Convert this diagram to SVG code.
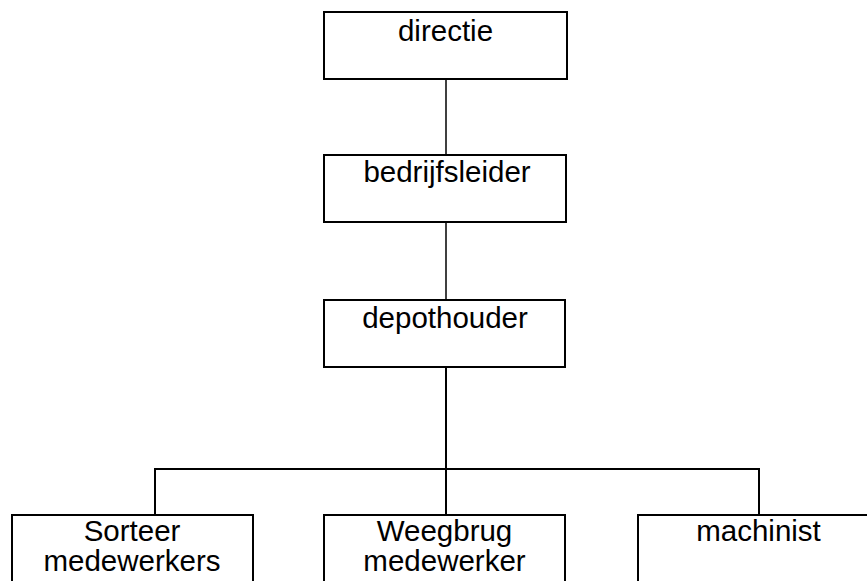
<svg xmlns="http://www.w3.org/2000/svg" width="867" height="581" viewBox="0 0 867 581">
<style>
.box{fill:#fff;stroke:#000;stroke-width:2}
.lbl{font-family:"Liberation Sans",Arial,sans-serif;font-size:29.5px;fill:#000;text-anchor:middle}
.con{stroke:#000;stroke-width:2;fill:none}
.thin{stroke-width:1.5}
</style>
<rect width="867" height="581" fill="#fff"/>
<g id="connectors">
<line class="con thin" x1="446" y1="79" x2="446" y2="155"/>
<line class="con thin" x1="446" y1="222" x2="446" y2="300"/>
<line class="con" x1="446" y1="367" x2="446" y2="515"/>
<polyline class="con" points="155,515 155,469 759,469 759,515"/>
</g>
<g id="directie">
<rect class="box" x="324" y="12" width="243" height="67"/>
<text class="lbl" x="445.5" y="41">directie</text>
</g>
<g id="bedrijfsleider">
<rect class="box" x="324" y="155" width="242" height="67"/>
<text class="lbl" x="447" y="182">bedrijfsleider</text>
</g>
<g id="depothouder">
<rect class="box" x="324" y="300" width="241" height="67"/>
<text class="lbl" x="445" y="328">depothouder</text>
</g>
<g id="sorteer">
<rect class="box" x="12" y="515" width="241" height="80"/>
<text class="lbl" x="132" y="541">Sorteer</text>
<text class="lbl" x="132" y="571">medewerkers</text>
</g>
<g id="weegbrug">
<rect class="box" x="324" y="515" width="241" height="80"/>
<text class="lbl" x="444.5" y="541">Weegbrug</text>
<text class="lbl" x="444.5" y="571">medewerker</text>
</g>
<g id="machinist">
<rect class="box" x="638" y="515" width="242" height="80"/>
<text class="lbl" x="758.5" y="541">machinist</text>
</g>
</svg>
